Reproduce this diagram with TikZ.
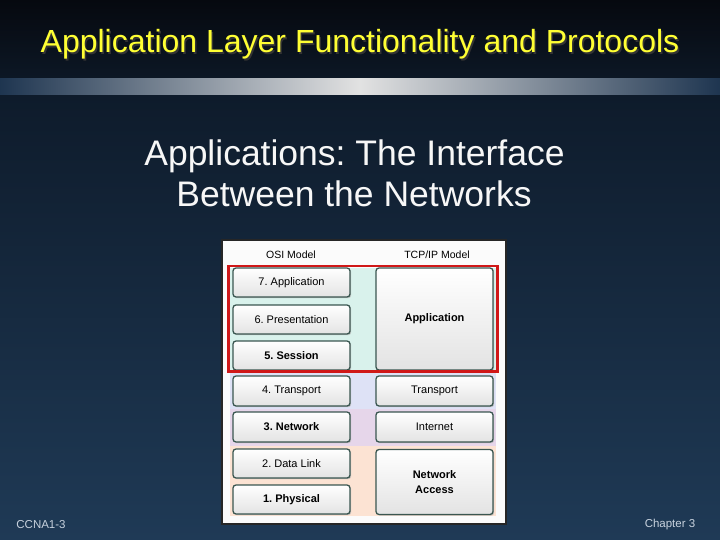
\documentclass[tikz,border=0pt]{standalone}
\usepackage{fontspec}
\setmainfont{Liberation Sans}
\usetikzlibrary{shadows}
\frenchspacing
\definecolor{titleyellow}{HTML}{FFFF33}
\definecolor{topdark}{HTML}{06090F}
\definecolor{navyA}{HTML}{0E1B2B}
\definecolor{navyB}{HTML}{1F3A56}
\definecolor{barend}{HTML}{1E3550}
\definecolor{barmid}{HTML}{E2E2E2}
\definecolor{boxline}{HTML}{3A5650}
\definecolor{bgcyan}{HTML}{D9F2EC}
\definecolor{bglav}{HTML}{DEE2F6}
\definecolor{bgpurp}{HTML}{E6D6EA}
\definecolor{bgpeach}{HTML}{FCE3D3}
\definecolor{footgray}{HTML}{C8D2DE}
\definecolor{redframe}{HTML}{D01818}
\tikzset{
  layer/.style={draw=boxline, line width=1.3pt, rounded corners=3pt,
    top color=white, bottom color=gray!22, inner sep=0pt,
    minimum width=117pt, font=\fontsize{11}{13}\selectfont, text=black,
    drop shadow={shadow xshift=1.2pt, shadow yshift=-1.2pt, fill=gray!60, opacity=0.7}},
  boldtext/.style={font=\fontsize{11}{15}\selectfont\bfseries},
  hdr/.style={font=\fontsize{10.5}{12}\selectfont, text=black},
  foot/.style={font=\fontsize{11.5}{13}\selectfont, text=footgray, anchor=base},
  ttl/.style={font=\fontsize{32}{36}\selectfont, anchor=base},
  subt/.style={text=white!94!gray, font=\fontsize{35.5}{40}\selectfont, anchor=base}
}
\begin{document}
\begin{tikzpicture}[x=1pt,y=-1pt]
\useasboundingbox (0,0) rectangle (720,540);
% background
\fill[top color=topdark, bottom color=navyA!80!topdark] (0,0) rectangle (720,79);
\fill[top color=navyA, bottom color=navyB] (0,95) rectangle (720,540);
\fill[left color=barend, right color=barend, middle color=barmid] (0,79) rectangle (720,95);
% title
\node[ttl, text=black!80] at (361.5,54.5) {Application Layer Functionality and Protocols};
\node (title) [ttl, text=titleyellow] at (360,53) {Application Layer Functionality and Protocols};
% subtitle
\node (sub1) [subt] at (354.5,165.5) {Applications: The Interface};
\node (sub2) [subt] at (354,207) {Between the Networks};
% diagram frame
\node (frame) [draw=black!85, line width=1.5pt, fill=white!97!gray, minimum width=284pt, minimum height=284pt, inner sep=0pt] at (364,382) {};
% coloured bands
\fill[bgcyan] (230,268) rectangle (496,372);
\fill[bglav] (230,373) rectangle (496,409);
\fill[bgpurp] (230,409) rectangle (496,446);
\fill[bgpeach] (230,446) rectangle (496,516);
% headers
\node (hosi) [hdr] at (291,255) {OSI Model};
\node (htcp) [hdr] at (437,255) {TCP/IP Model};
% OSI layers
\node (l7) [layer, minimum height=29pt] at (291.5,282.5) {7. Application};
\node (l6) [layer, minimum height=29pt] at (291.5,319.5) {6. Presentation};
\node (l5) [layer, boldtext, minimum height=29pt] at (291.5,355.5) {5. Session};
\node (l4) [layer, minimum height=30pt] at (291.5,391) {4. Transport};
\node (l3) [layer, boldtext, minimum height=30pt] at (291.5,427) {3. Network};
\node (l2) [layer, minimum height=29pt] at (291.5,463.5) {2. Data Link};
\node (l1) [layer, boldtext, minimum height=29pt] at (291.5,499.5) {1. Physical};
% TCP/IP layers
\node (tapp) [layer, boldtext, minimum height=102pt] at (434.5,319) {Application};
\node (ttr) [layer, minimum height=30pt] at (434.5,391) {Transport};
\node (tint) [layer, minimum height=30pt] at (434.5,427) {Internet};
\node (tna) [layer, boldtext, minimum height=65pt, align=center, text depth=0pt] at (434.5,482) {Network\\Access};
% red highlight
\draw[redframe, line width=2.6pt] (228.5,266) rectangle (497.5,371.5);
% footer
\node (f1) [foot] at (41,528) {CCNA1-3};
\node (f2) [foot] at (670,527) {Chapter 3};
\end{tikzpicture}
\end{document}
